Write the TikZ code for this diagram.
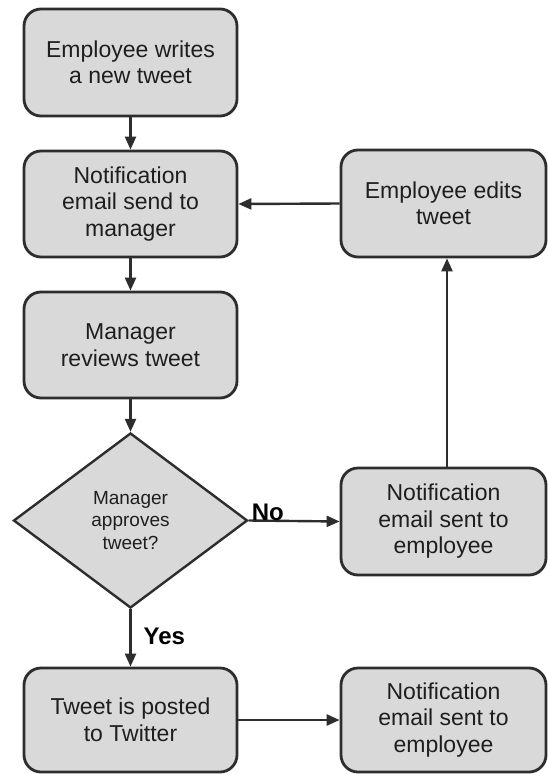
\documentclass[tikz,border=0pt]{standalone}
\usepackage{fontspec}
\setmainfont{Liberation Sans}
\usetikzlibrary{shapes.geometric,arrows.meta}
\definecolor{boxfill}{RGB}{217,217,217}
\definecolor{boxline}{RGB}{45,45,45}
\definecolor{txt}{RGB}{30,30,30}
\tikzset{
  procbox/.style={draw=boxline, fill=boxfill, line width=2.8pt, rounded corners=17pt,
    inner sep=0pt, align=center, text=txt, font=\fontsize{23}{26.5}\selectfont},
  decbox/.style={draw=boxline, fill=boxfill, line width=2.4pt, shape=diamond,
    inner sep=0pt, align=center, text=txt, font=\fontsize{19}{22.5}\selectfont,
    minimum width=234pt, minimum height=175pt},
  flow/.style={draw=boxline, line width=2.4pt, -{Triangle[length=13pt,width=11pt]}},
  lbl/.style={font=\bfseries\fontsize{24}{28}\selectfont, text=black, inner sep=1pt}
}
\begin{document}
\begin{tikzpicture}[x=1pt,y=-1pt]
\useasboundingbox[fill=white] (0,0) rectangle (547,774);
\node[procbox, minimum width=213pt, minimum height=107pt] (b1) at (130.5,62.5) {Employee writes\\a new tweet};
\node[procbox, minimum width=213pt, minimum height=106pt] (b2) at (130.5,204) {Notification\\email send to\\manager};
\node[procbox, minimum width=213pt, minimum height=106pt] (b3) at (130.5,345) {Manager\\reviews tweet};
\node[decbox] (d) at (130.5,520.5) {Manager\\approves\\tweet?};
\node[procbox, minimum width=213pt, minimum height=104pt] (b5) at (130.5,720) {Tweet is posted\\to Twitter};
\node[procbox, minimum width=205pt, minimum height=107pt] (rt) at (443.5,203.5) {Employee edits\\tweet};
\node[procbox, minimum width=205pt, minimum height=107pt] (rm) at (443.5,521.5) {Notification\\email sent to\\employee};
\node[procbox, minimum width=205pt, minimum height=104pt] (rb) at (443.5,720) {Notification\\email sent to\\employee};

\draw[flow] (b1) -- (b2);
\draw[flow] (b2) -- (b3);
\draw[flow] (b3) -- (d);
\draw[flow] (d.east) -- (rm.west);
\node[lbl, anchor=south west] (no) at ([xshift=2pt,yshift=-1pt]d.east) {No};
\draw[flow] ([xshift=3.5pt]rm.north) -- ([xshift=3.5pt]rt.south);
\draw[flow] (rt.west) -- (b2.east);
\draw[flow] (d.south) -- (b5.north);
\node[lbl, anchor=west] (yes) at ([xshift=12pt,yshift=30pt]b5.north) {Yes};
\draw[flow] (b5.east) -- (rb.west);
\end{tikzpicture}
\end{document}
